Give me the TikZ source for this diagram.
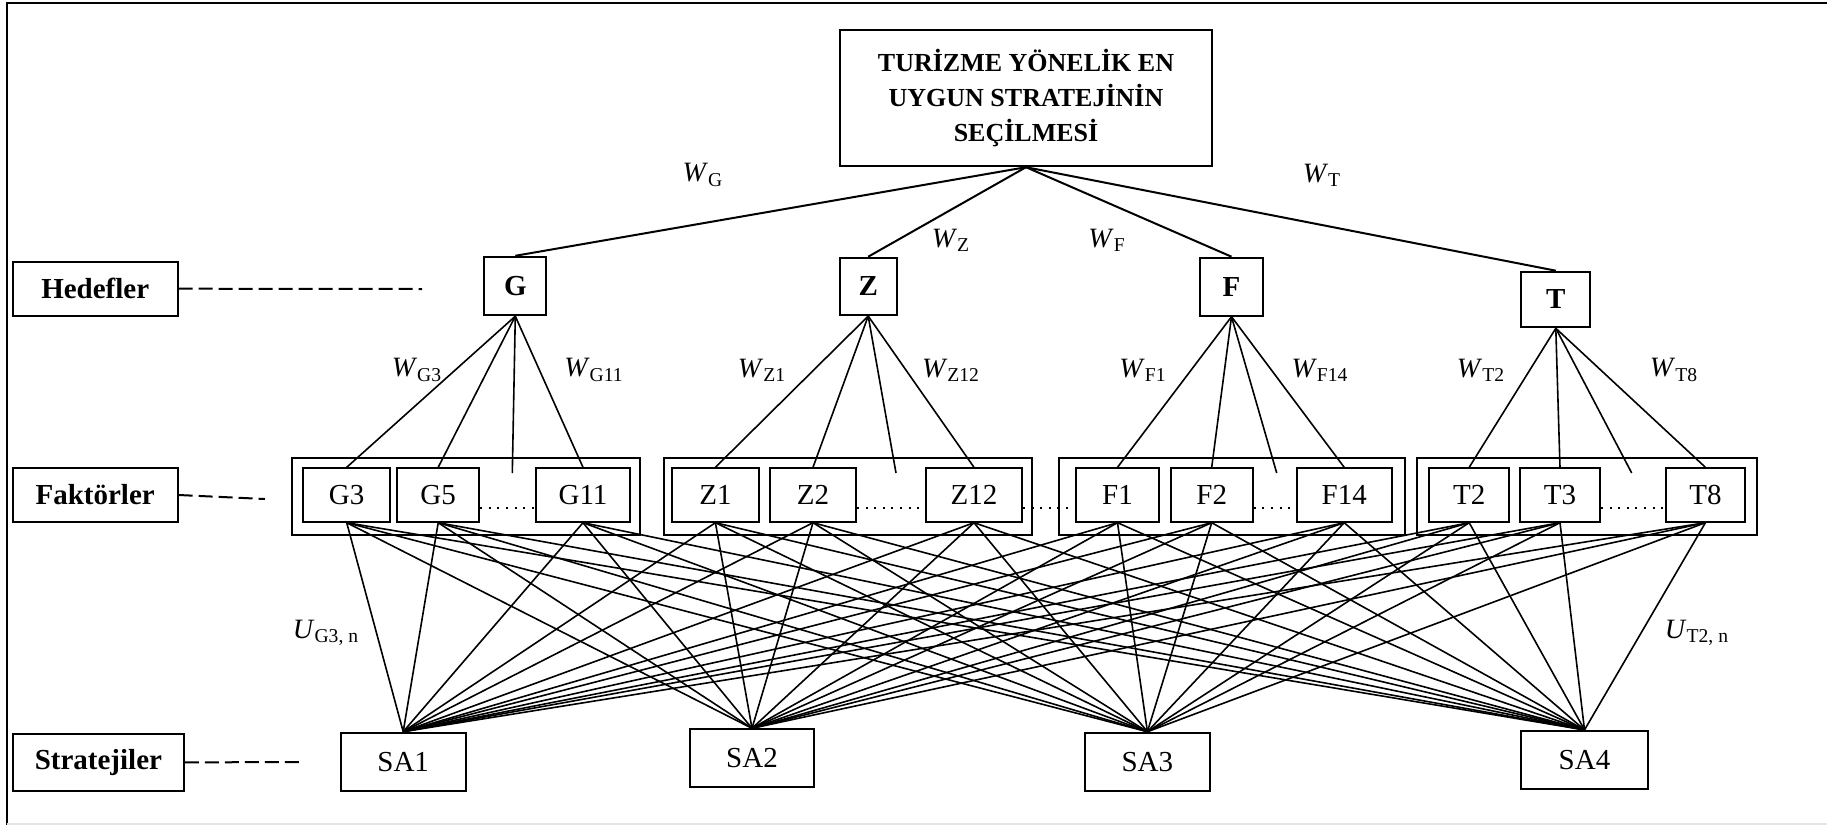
\documentclass[tikz,border=0pt]{standalone}
\usepackage{fontspec}
\setmainfont{Liberation Serif}
\usepackage{tikz}
\tikzstyle{box} = [draw, line width=1pt, inner sep=0pt]
\tikzstyle{level} = [box, font=\fontsize{14.5}{16}\selectfont\bfseries]
\tikzstyle{crit} = [box, font=\fontsize{14.5}{16}\selectfont\bfseries]
\tikzstyle{factor} = [box, minimum height=26.7pt, font=\fontsize{14.5}{16}\selectfont]
\tikzstyle{strat} = [box, minimum height=29pt, font=\fontsize{14.5}{16}\selectfont]
\tikzstyle{weight} = [inner sep=0pt, font=\fontsize{14}{16}\selectfont]
\tikzstyle{link} = [line width=0.8pt]
\tikzstyle{tlink} = [line width=1pt]
\tikzstyle{dashline} = [line width=1pt, dash pattern=on 7pt off 3pt]
\tikzstyle{dots} = [line width=1pt, dash pattern=on 1pt off 3.3pt]
\newcommand{\wt}[1]{\textit{W}\textsubscript{#1}}
\newcommand{\ut}[1]{\textit{U}\textsubscript{#1}}

\begin{document}
\begin{tikzpicture}[x=0.5pt, y=-0.5pt]
\useasboundingbox (0,0) rectangle (1827,825);
% Frame
\draw[line width=1.2pt] (6.7,825) -- (6.7,3) -- (1827,3);
\draw[gray!20, line width=0.6pt] (6.7,824) -- (1827,824);

% Goal
\node[box, minimum width=186pt, minimum height=68pt, align=center,
      font=\fontsize{13}{17.5}\selectfont\bfseries] (goal) at (1026,98.2)
    {TURİZME YÖNELİK EN\\UYGUN STRATEJİNİN\\SEÇİLMESİ};

% Level names
\node[level, minimum width=82.4pt, minimum height=27pt] (hed) at (95.2,288.7) {Hedefler};
\node[level, minimum width=82.4pt, minimum height=26.7pt] (fak) at (95.2,495) {Faktörler};
\node[level, minimum width=85.4pt, minimum height=28.4pt] (str) at (98.4,762.4) {Stratejiler};
\coordinate (hedEnd) at (422,289);
\coordinate (fakEnd) at (265,499);
\coordinate (strEnd) at (302.8,762);
\draw[dashline] (hed.east) -- (hedEnd);
\draw[dashline] (fak.east) -- (fakEnd);
\draw[dashline] (str.east) -- (strEnd);

% Criteria
\node[crit, minimum width=30.9pt, minimum height=29.2pt] (G) at (515.3,286) {G};
\node[crit, minimum width=28.5pt, minimum height=28.7pt] (Z) at (868.2,286.4) {Z};
\node[crit, minimum width=31.5pt, minimum height=29pt] (F) at (1231.5,286.7) {F};
\node[crit, minimum width=34.4pt, minimum height=27.8pt] (T) at (1555.8,299.5) {T};
\foreach \c in {G,Z,F,T}
    \draw[tlink] (goal.south) -- (\c.north);

% Group frames
\foreach \a/\b in {292.3/640, 664/1032.3, 1058.7/1405, 1417.3/1756.7}
    \draw[line width=1pt] (\a,458.3) rectangle (\b,535);

% Factors
\foreach \f/\x/\w in {G3/346.7/43.4, G5/438.2/40.9, G11/583/47, Z1/715.4/43.7, Z2/813/43, Z12/974/48,
                      F1/1117.5/41.5, F2/1211.7/41, F14/1344.2/47.5, T2/1469.2/39.9, T3/1560/40, T8/1705.4/39.7}
    \node[factor, minimum width=\w pt] (\f) at (\x,495) {\f};
\foreach \a/\b in {G5/G11, Z2/Z12, Z12/F1, F2/F14, T3/T8}
    \draw[dots] ([yshift=-6.7pt]\a.east) -- ([yshift=-6.7pt]\b.west);

% Criteria to factors
\coordinate (Gm) at (512.3,473);
\coordinate (Zm) at (896,473);
\coordinate (Fm) at (1276.7,473);
\coordinate (Tm) at (1631.7,473);
\foreach \c/\a/\b/\d in {G/G3/G5/G11, Z/Z1/Z2/Z12, F/F1/F2/F14, T/T2/T3/T8} {
    \draw[link] (\c.south) -- (\a.north);
    \draw[link] (\c.south) -- (\b.north);
    \draw[link] (\c.south) -- (\c m);
    \draw[link] (\c.south) -- (\d.north);
}

% Strategies
\node[strat, minimum width=62.6pt] (SA1) at (403.2,761.7) {SA1};
\node[strat, minimum width=62pt] (SA2) at (752,758.3) {SA2};
\node[strat, minimum width=62.6pt] (SA3) at (1147.4,761.7) {SA3};
\node[strat, minimum width=63.2pt] (SA4) at (1584.5,759.9) {SA4};
\foreach \f in {G3,G5,G11,Z1,Z2,Z12,F1,F2,F14,T2,T3,T8}
    \foreach \s in {SA1,SA2,SA3,SA4}
        \draw[link] (\f.south) -- (\s.north);

% Weights
\node[weight] (wG) at (703,175) {\wt{G}};
\node[weight] (wT) at (1322,175) {\wt{T}};
\node[weight] (wZ) at (951,240) {\wt{Z}};
\node[weight] (wF) at (1107,240) {\wt{F}};
\node[weight] (wG3) at (417,370) {\wt{G3}};
\node[weight] (wG11) at (594,370) {\wt{G11}};
\node[weight] (wZ1) at (762,370) {\wt{Z1}};
\node[weight] (wZ12) at (951,370) {\wt{Z12}};
\node[weight] (wF1) at (1143,370) {\wt{F1}};
\node[weight] (wF14) at (1320,370) {\wt{F14}};
\node[weight] (wT2) at (1481,370) {\wt{T2}};
\node[weight] (wT8) at (1674,370) {\wt{T8}};
\node[weight] (uG3) at (326,633) {\ut{G3, n}};
\node[weight] (uT2) at (1697,633) {\ut{T2, n}};
\end{tikzpicture}
\end{document}
